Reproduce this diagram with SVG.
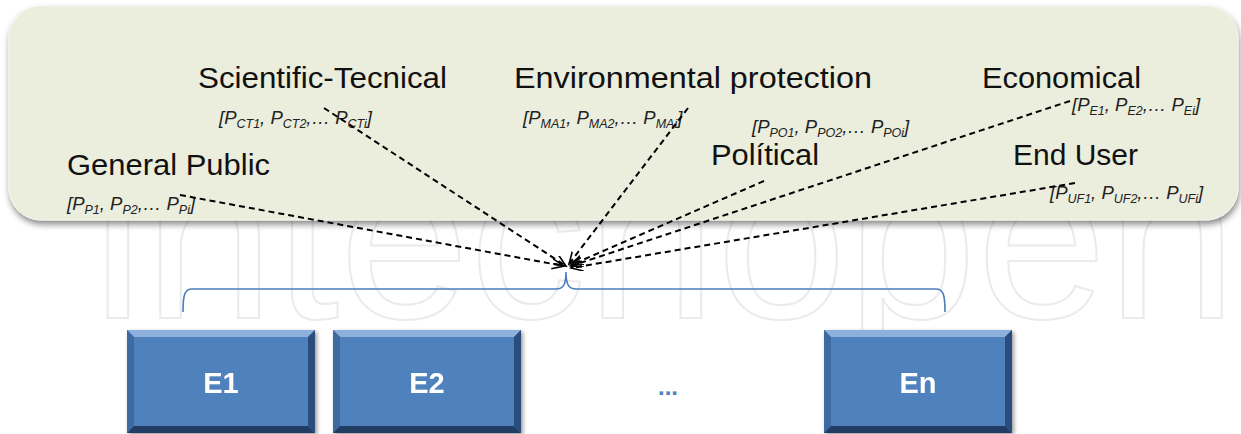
<svg xmlns="http://www.w3.org/2000/svg" width="1241" height="434" viewBox="0 0 1241 434">
  <style>
    .lbl { font-family: "Liberation Sans", Arial, sans-serif; font-size: 30px; fill: #111; }
    .par { font-family: "Liberation Sans", Arial, sans-serif; font-size: 18.5px; font-style: italic; fill: #222; }
    .s { font-size: 12.5px; baseline-shift: -4px; }
    .conn { fill: none; stroke: #000; stroke-width: 2; stroke-dasharray: 6 4; marker-end: url(#arr); }
    .boxt { font-family: "Liberation Sans", Arial, sans-serif; font-size: 29px; font-weight: bold; fill: #fff; text-anchor: middle; }
    .wm { font-family: "Liberation Sans", Arial, sans-serif; font-size: 230px; fill: #fff; stroke: #ebebeb; stroke-width: 2; }
  </style>
  <defs>
    <marker id="arr" markerUnits="userSpaceOnUse" markerWidth="16" markerHeight="12" refX="12" refY="5" orient="auto">
      <path d="M0,0 L12,5 L0,10" fill="none" stroke="#000" stroke-width="1.6"/>
    </marker>
    <filter id="psh" x="-5%" y="-10%" width="110%" height="125%">
      <feDropShadow dx="1" dy="4" stdDeviation="3" flood-color="#000" flood-opacity="0.45"/>
    </filter>
    <filter id="bsh" x="-10%" y="-10%" width="125%" height="125%">
      <feDropShadow dx="2" dy="2" stdDeviation="2" flood-color="#000" flood-opacity="0.4"/>
    </filter>
    <g id="bevel">
      <rect x="0" y="0" width="188" height="103" fill="#4f81bd"/>
      <polygon points="0,0 188,0 181,7 7,7" fill="#8db0dd"/>
      <polygon points="0,0 7,7 7,96 0,103" fill="#3d6aa0"/>
      <polygon points="188,0 188,103 181,96 181,7" fill="#2a4e7d"/>
      <polygon points="0,103 7,96 181,96 188,103" fill="#203d63"/>
    </g>
  </defs>

  <rect width="1241" height="434" fill="#fff"/>

  <text class="wm" x="92" y="318" textLength="1145" lengthAdjust="spacingAndGlyphs">intechopen</text>

  <g id="panel">
    <rect x="9" y="6" width="1229" height="214" rx="32" ry="32" fill="#ebeddd" stroke="#f4f5ec" stroke-width="1" filter="url(#psh)"/>
  </g>

  <g id="node-scientific">
    <text class="lbl" x="198" y="88" textLength="249" lengthAdjust="spacingAndGlyphs">Scientific-Tecnical</text>
    <text class="par" x="219" y="124">[P<tspan class="s">CT1</tspan>, P<tspan class="s">CT2</tspan>,… P<tspan class="s">CTi</tspan>]</text>
  </g>
  <g id="node-environmental">
    <text class="lbl" x="514" y="88" textLength="358" lengthAdjust="spacingAndGlyphs">Environmental protection</text>
    <text class="par" x="523" y="124">[P<tspan class="s">MA1</tspan>, P<tspan class="s">MA2</tspan>,… P<tspan class="s">MAi</tspan>]</text>
  </g>
  <g id="node-economical">
    <text class="lbl" x="982" y="88" textLength="159" lengthAdjust="spacingAndGlyphs">Economical</text>
    <text class="par" x="1072" y="111">[P<tspan class="s">E1</tspan>, P<tspan class="s">E2</tspan>,… P<tspan class="s">Ei</tspan>]</text>
  </g>
  <g id="node-political">
    <text class="par" x="752" y="133">[P<tspan class="s">PO1</tspan>, P<tspan class="s">PO2</tspan>,… P<tspan class="s">POi</tspan>]</text>
    <text class="lbl" x="711" y="165" textLength="108" lengthAdjust="spacingAndGlyphs">Polítical</text>
  </g>
  <g id="node-enduser">
    <text class="lbl" x="1013" y="165" textLength="125" lengthAdjust="spacingAndGlyphs">End User</text>
    <text class="par" x="1050" y="199">[P<tspan class="s">UF1</tspan>, P<tspan class="s">UF2</tspan>,… P<tspan class="s">UFi</tspan>]</text>
  </g>
  <g id="node-general">
    <text class="lbl" x="67" y="175" textLength="203" lengthAdjust="spacingAndGlyphs">General Public</text>
    <text class="par" x="67" y="210">[P<tspan class="s">P1</tspan>, P<tspan class="s">P2</tspan>,… P<tspan class="s">Pi</tspan>]</text>
  </g>

  <g id="connectors">
    <line class="conn" x1="180" y1="195" x2="564" y2="266"/>
    <line class="conn" x1="324" y1="108" x2="566" y2="266"/>
    <line class="conn" x1="688" y1="108" x2="569" y2="264"/>
    <line class="conn" x1="764" y1="181" x2="571" y2="265"/>
    <line class="conn" x1="1070" y1="101" x2="571" y2="266"/>
    <line class="conn" x1="1075" y1="183" x2="571" y2="268"/>
    <path id="brace" d="M183,312 C183,294 185,289 192,289 L556,289 C563,289 566,285 566,272 C566,285 569,289 576,289 L936,289 C943,289 945,294 945,312" fill="none" stroke="#4a7ebb" stroke-width="1.6"/>
  </g>

  <g id="node-E1" filter="url(#bsh)">
    <use href="#bevel" x="127" y="330"/>
    <text class="boxt" x="221" y="393">E1</text>
  </g>
  <g id="node-E2" filter="url(#bsh)">
    <use href="#bevel" x="333" y="330"/>
    <text class="boxt" x="427" y="393">E2</text>
  </g>
  <g id="node-dots">
    <text x="668" y="395" font-family="Liberation Sans, Arial, sans-serif" font-size="24" font-weight="bold" fill="#4f81bd" text-anchor="middle">...</text>
  </g>
  <g id="node-En" filter="url(#bsh)">
    <use href="#bevel" x="824" y="330"/>
    <text class="boxt" x="918" y="393">En</text>
  </g>
</svg>
